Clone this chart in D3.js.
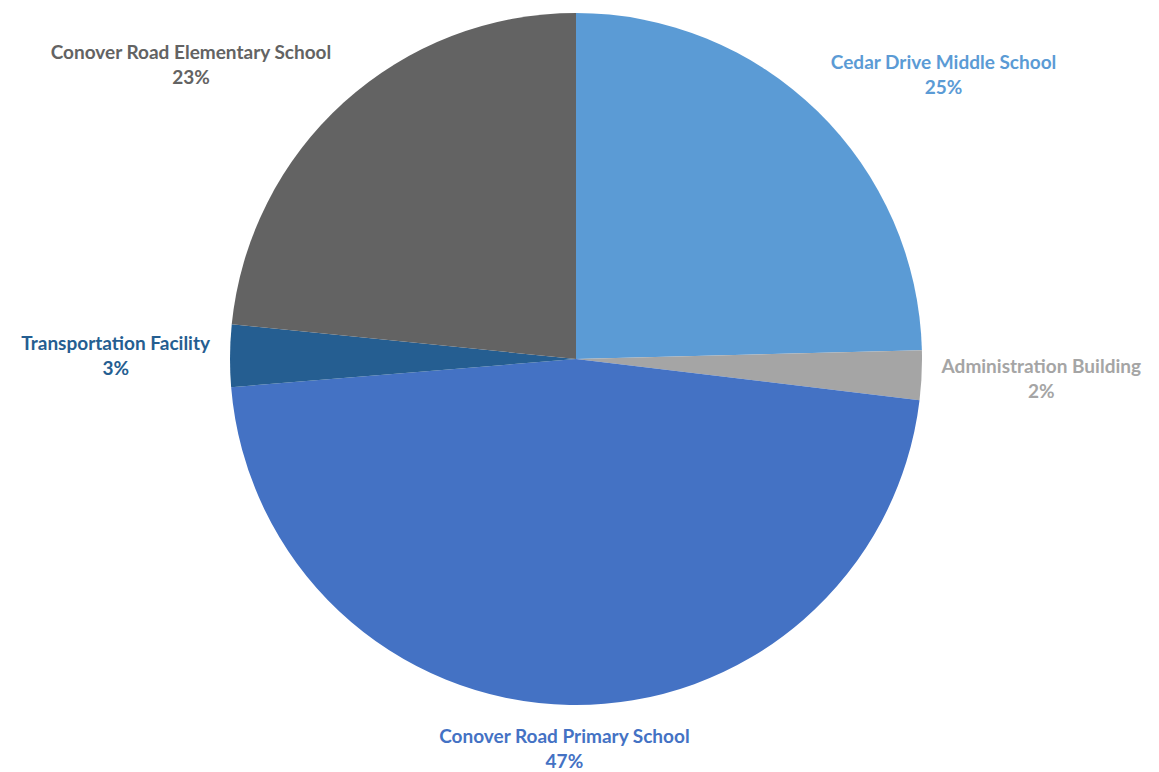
<!DOCTYPE html>
<html>
<head>
<meta charset="utf-8">
<script src="https://cdn.jsdelivr.net/npm/d3@7"></script>
<style>
  body { margin: 0; background: #fff; }
  text { font-family: Lato, "Noto Sans", sans-serif; font-weight: 700; }
</style>
</head>
<body>
<svg width="1159" height="772"></svg>
<script>
var svg = d3.select("svg"),
    width = +svg.attr("width"),
    height = +svg.attr("height");

// slices, clockwise from 12 o'clock
var categories = ["Cedar Drive Middle School", "Administration Building", "Conover Road Primary School",
                  "Transportation Facility", "Conover Road Elementary School"];
var shares = [24.6, 2.3, 46.8, 2.9, 23.4];
var colors = ["#5B9BD5", "#A5A5A5", "#4472C4", "#255E91", "#636363"];

var data = categories.map(function(c, i) { return { name: c, value: shares[i], color: colors[i] }; });

var cx = 576, cy = 359, radius = 346;

var pie = d3.pie().sort(null).value(function(d) { return d.value; });
var arc = d3.arc().innerRadius(0).outerRadius(radius);
var arcs = pie(data);
var total = d3.sum(shares);

var g = svg.append("g").attr("transform", "translate(" + cx + "," + cy + ")");

g.selectAll(".slice")
    .data(arcs)
    .enter().append("path")
    .attr("class", "slice")
    .attr("d", arc)
    .style("fill", function(d) { return d.data.color; });

// outside-end labels, box pushed away from the pie like Excel does
var gap = 19, lineH = 25;
var labels = g.selectAll(".label")
    .data(arcs)
    .enter().append("g")
    .attr("class", "label");

labels.each(function(d) {
    var lg = d3.select(this);
    var t = lg.append("text")
        .attr("text-anchor", "middle")
        .style("font-size", "19px")
        .style("fill", d.data.color);
    t.append("tspan").attr("x", 0).attr("y", 0).text(d.data.name);
    t.append("tspan").attr("x", 0).attr("y", lineH).text(Math.round(d.data.value / total * 100) + "%");

    var bb = t.node().getBBox();
    var a = (d.startAngle + d.endAngle) / 2;
    var s = Math.sin(a), c = Math.cos(a);
    var px = (radius + gap) * s, py = -(radius + gap) * c;
    var kx = Math.max(-1, Math.min(1, s * 2)), ky = Math.max(-1, Math.min(1, -c * 2));
    var bcx = px + kx * bb.width / 2, bcy = py + ky * bb.height / 2;
    lg.attr("transform", "translate(" + (bcx - (bb.x + bb.width / 2)) + "," + (bcy - (bb.y + bb.height / 2)) + ")");
});
</script>
</body>
</html>
